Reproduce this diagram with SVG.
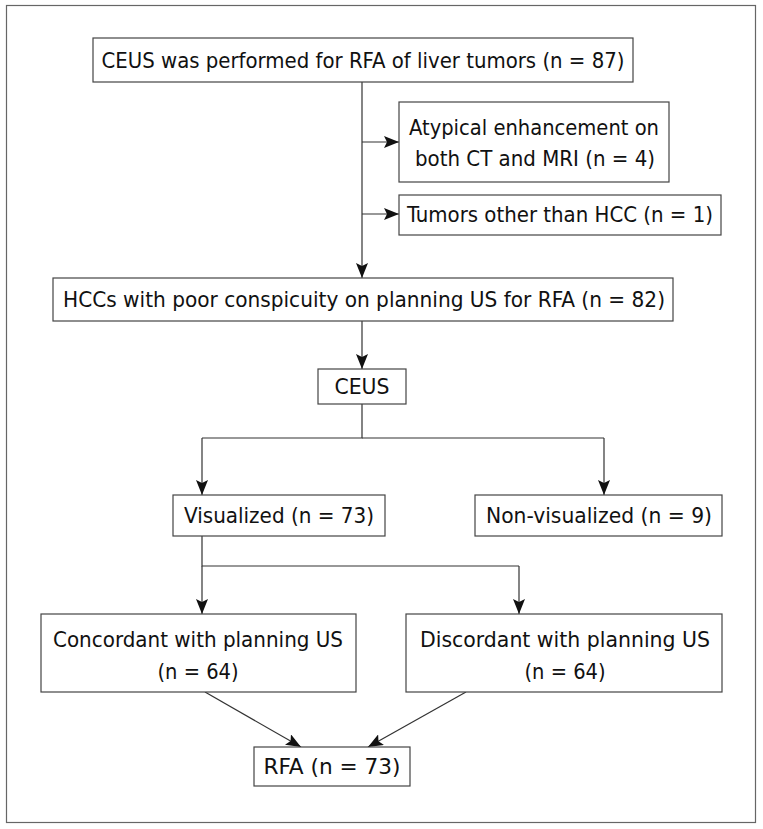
<svg xmlns="http://www.w3.org/2000/svg" width="763" height="829" viewBox="0 0 763 829">
<style>
.box{fill:#fff;stroke:#444;stroke-width:1.2}
.t{font-family:"DejaVu Sans Condensed","Liberation Sans Narrow","Liberation Sans",sans-serif;font-size:22px;fill:#111;text-anchor:middle}
.c{fill:none;stroke:#333;stroke-width:1.2}
</style>
<defs>
<marker id="ah" markerWidth="15" markerHeight="12" refX="15" refY="6" orient="auto" markerUnits="userSpaceOnUse">
<path d="M0,0 L15,6 L0,12 L3,6 z" fill="#111"/>
</marker>
</defs>
<rect x="0" y="0" width="763" height="829" fill="#fff"/>
<rect x="6.5" y="5.5" width="749" height="817" fill="none" stroke="#666" stroke-width="1.2"/>
<g id="connectors">
<line class="c" x1="362" y1="82" x2="362" y2="278" marker-end="url(#ah)"/>
<line class="c" x1="362" y1="142" x2="399" y2="142" marker-end="url(#ah)"/>
<line class="c" x1="362" y1="214" x2="399" y2="214" marker-end="url(#ah)"/>
<line class="c" x1="362" y1="321" x2="362" y2="369" marker-end="url(#ah)"/>
<polyline class="c" points="362,404 362,438 202,438"/>
<polyline class="c" points="362,438 604,438"/>
<line class="c" x1="202" y1="438" x2="202" y2="495" marker-end="url(#ah)"/>
<line class="c" x1="604" y1="438" x2="604" y2="495" marker-end="url(#ah)"/>
<polyline class="c" points="202,536 202,566 519,566"/>
<line class="c" x1="202" y1="566" x2="202" y2="614" marker-end="url(#ah)"/>
<line class="c" x1="519" y1="566" x2="519" y2="614" marker-end="url(#ah)"/>
<line class="c" x1="205" y1="692" x2="301" y2="747" marker-end="url(#ah)"/>
<line class="c" x1="466" y1="692" x2="368" y2="747" marker-end="url(#ah)"/>
</g>
<g id="n1"><rect class="box" x="93" y="38" width="540" height="44"/><text class="t" x="363" y="68" textLength="523" lengthAdjust="spacingAndGlyphs">CEUS was performed for RFA of liver tumors (n = 87)</text></g>
<g id="n2"><rect class="box" x="399" y="102" width="270" height="80"/><text class="t" x="534" y="135" textLength="250" lengthAdjust="spacingAndGlyphs">Atypical enhancement on</text><text class="t" x="535" y="166" textLength="240" lengthAdjust="spacingAndGlyphs">both CT and MRI (n = 4)</text></g>
<g id="n3"><rect class="box" x="399" y="195" width="322" height="40"/><text class="t" x="560" y="222" textLength="306" lengthAdjust="spacingAndGlyphs">Tumors other than HCC (n = 1)</text></g>
<g id="n4"><rect class="box" x="53" y="278" width="620" height="43"/><text class="t" x="364" y="307" textLength="602" lengthAdjust="spacingAndGlyphs">HCCs with poor conspicuity on planning US for RFA (n = 82)</text></g>
<g id="n5"><rect class="box" x="318" y="369" width="88" height="35"/><text class="t" x="362" y="394" textLength="55" lengthAdjust="spacingAndGlyphs">CEUS</text></g>
<g id="n6"><rect class="box" x="173" y="495" width="212" height="41"/><text class="t" x="279" y="523" textLength="190" lengthAdjust="spacingAndGlyphs">Visualized (n = 73)</text></g>
<g id="n7"><rect class="box" x="475" y="495" width="247" height="41"/><text class="t" x="599" y="523" textLength="226" lengthAdjust="spacingAndGlyphs">Non-visualized (n = 9)</text></g>
<g id="n8"><rect class="box" x="41" y="614" width="315" height="78"/><text class="t" x="198" y="647" textLength="290" lengthAdjust="spacingAndGlyphs">Concordant with planning US</text><text class="t" x="198" y="679" textLength="81" lengthAdjust="spacingAndGlyphs">(n = 64)</text></g>
<g id="n9"><rect class="box" x="406" y="614" width="316" height="78"/><text class="t" x="565" y="647" textLength="290" lengthAdjust="spacingAndGlyphs">Discordant with planning US</text><text class="t" x="565" y="679" textLength="81" lengthAdjust="spacingAndGlyphs">(n = 64)</text></g>
<g id="n10"><rect class="box" x="254" y="747" width="156" height="39"/><text class="t" x="332" y="774" textLength="137" lengthAdjust="spacingAndGlyphs">RFA (n = 73)</text></g>
</svg>
